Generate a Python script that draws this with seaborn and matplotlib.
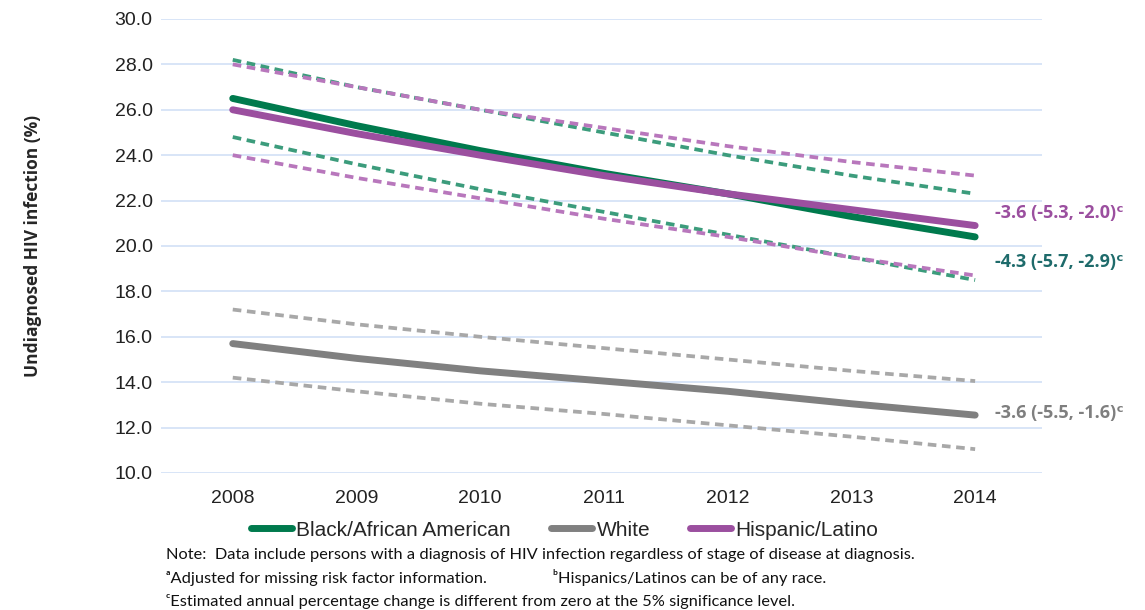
import matplotlib
matplotlib.use("Agg")
import pandas as pd
import seaborn as sns
import matplotlib.pyplot as plt
from matplotlib.lines import Line2D

years = [2008, 2009, 2010, 2011, 2012, 2013, 2014]

black = [26.5, 25.3, 24.2, 23.2, 22.3, 21.3, 20.4]
black_hi = [28.2, 27.0, 26.0, 25.0, 24.0, 23.1, 22.3]
black_lo = [24.8, 23.6, 22.5, 21.5, 20.5, 19.5, 18.5]

white = [15.7, 15.05, 14.5, 14.05, 13.6, 13.05, 12.55]
white_hi = [17.2, 16.55, 16.0, 15.5, 15.0, 14.5, 14.05]
white_lo = [14.2, 13.6, 13.05, 12.6, 12.1, 11.6, 11.05]

hisp = [26.0, 24.95, 24.0, 23.1, 22.3, 21.6, 20.9]
hisp_hi = [28.0, 27.0, 26.0, 25.2, 24.4, 23.7, 23.1]
hisp_lo = [24.0, 23.0, 22.1, 21.2, 20.4, 19.5, 18.7]

groups = ["Black/African American", "White", "Hispanic/Latino"]
labels_end = ["-4.3 (-5.7, -2.9)ᶜ", "-3.6 (-5.5, -1.6)ᶜ", "-3.6 (-5.3, -2.0)ᶜ"]

sns.set_theme(style="white")
plt.rcParams["font.family"] = ["Liberation Sans", "DejaVu Sans"]

fig = plt.figure(figsize=(11.45, 6.1), dpi=100)
ax = fig.add_axes([0.1406, 0.2246, 0.7694, 0.7443])

colors = {"Black/African American": ("#007a4d", "#3c9c7c"),
          "White": ("#808080", "#a8a8a8"),
          "Hispanic/Latino": ("#9b4f9f", "#b877bc")}
label_colors = {"Black/African American": "#1e6b6b",
                "White": "#7f7f7f",
                "Hispanic/Latino": "#9b4f9f"}
series = {"Black/African American": (black, black_hi, black_lo),
          "White": (white, white_hi, white_lo),
          "Hispanic/Latino": (hisp, hisp_hi, hisp_lo)}

# dashed confidence bounds first, then the estimates on top
for g in groups:
    est, hi, lo = series[g]
    for b in (hi, lo):
        sns.lineplot(x=years, y=b, ax=ax, color=colors[g][1], linewidth=2.7,
                     linestyle=(0, (2.3, 1.5)))
for g in groups:
    est = series[g][0]
    sns.lineplot(x=years, y=est, ax=ax, color=colors[g][0], linewidth=5,
                 solid_capstyle="round")

# annotations at the right end
ann_y = {"Black/African American": 19.3, "White": 12.65, "Hispanic/Latino": 21.45}
for g, t in zip(groups, labels_end):
    ax.text(2014.16, ann_y[g], t, color=label_colors[g], fontsize=13,
            fontweight="bold", va="center", ha="left",
            family=["Open Sans", "DejaVu Sans"], clip_on=False)

ax.set_xlim(2007.42, 2014.54)
ax.set_ylim(10, 30)
ax.set_yticks([10, 12, 14, 16, 18, 20, 22, 24, 26, 28, 30])
ax.set_yticklabels([f"{v:.1f}" for v in ax.get_yticks()], fontsize=14)
ax.set_xticks(years)
ax.set_xticklabels([str(y) for y in years], fontsize=14)
ax.tick_params(axis="both", length=0, colors="#222222")
ax.tick_params(axis="y", pad=6)
ax.tick_params(axis="x", pad=12)
ax.yaxis.grid(True, color="#d6e3f7", linewidth=1.3)
ax.xaxis.grid(False)
for s in ax.spines.values():
    s.set_visible(False)

ax.set_ylabel("Undiagnosed HIV infection (%)", fontsize=12.5, fontweight="bold",
              family=["Open Sans", "DejaVu Sans"], labelpad=52)

handles = [Line2D([0], [0], color=colors[g][0], linewidth=5) for g in groups]
fig.legend(handles, groups, loc="center", bbox_to_anchor=(0.493, 0.131),
           ncol=3, frameon=False, fontsize=15, handlelength=2.0,
           handletextpad=0.2, columnspacing=1.9)

note_kw = dict(fontsize=11.8, color="#111111", family=["Lato", "DejaVu Sans"])
fig.text(0.145, 0.083, "Note:  Data include persons with a diagnosis of HIV infection regardless of stage of disease at diagnosis.", **note_kw)
fig.text(0.145, 0.044, "ᵃAdjusted for missing risk factor information.", **note_kw)
fig.text(0.483, 0.044, "ᵇHispanics/Latinos can be of any race.", **note_kw)
fig.text(0.145, 0.006, "ᶜEstimated annual percentage change is different from zero at the 5% significance level.", **note_kw)

fig.savefig("out.png", dpi=100)
